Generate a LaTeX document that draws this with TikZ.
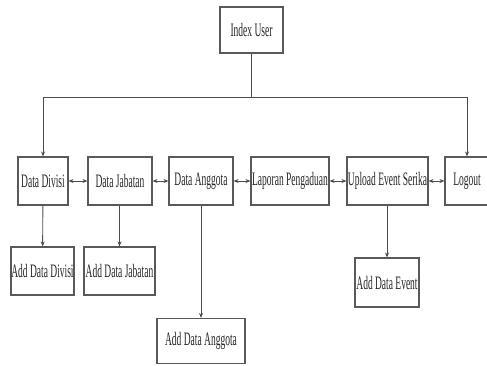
\documentclass[tikz,border=0pt]{standalone}
\usepackage{fontspec}
\setmainfont[FakeStretch=0.5]{Liberation Serif}
\usetikzlibrary{arrows.meta}
\begin{document}
\begin{tikzpicture}[x=1pt,y=-1pt,
  box/.style={draw=black!65,line width=1.1pt,fill=white,inner sep=0pt,text=black!85,
    font=\fontsize{19}{21}\selectfont},
  conn/.style={draw=black!70,line width=0.9pt},
  arr/.style={conn,-{Stealth[length=5pt,width=4pt]}},
  darr/.style={conn,{Stealth[length=5pt,width=4pt]}-{Stealth[length=5pt,width=4pt]}}]
\useasboundingbox (0,0) rectangle (487,365);
\node[box,minimum width=63pt,minimum height=46pt] (iu) at (251.5,30) {Index User};
\node[box,minimum width=50pt,minimum height=48pt] (dd) at (43,181) {Data Divisi};
\node[box,minimum width=64pt,minimum height=48pt] (dj) at (120,181) {Data Jabatan};
\node[box,minimum width=64pt,minimum height=48pt] (da) at (201,181) {Data Anggota};
\node[box,minimum width=78pt,minimum height=48pt] (lp) at (290,181) {Laporan Pengaduan};
\node[box,minimum width=81pt,minimum height=48pt] (ue) at (387.5,181) {Upload Event Serika};
\node[box,minimum width=44pt,minimum height=48pt] (lo) at (467,181) {Logout};
\node[box,minimum width=63pt,minimum height=48pt] (add) at (42.5,271) {Add Data Divisi};
\node[box,minimum width=71pt,minimum height=48pt] (adj) at (119.5,271) {Add Data Jabatan};
\node[box,minimum width=88pt,minimum height=45pt] (ada) at (201,341) {Add Data Anggota};
\node[box,minimum width=64pt,minimum height=49pt] (ade) at (387,282.5) {Add Data Event};
\coordinate (j) at (251.5,97);
\draw[conn] (iu) -- (j);
\draw[arr] (j) -| (dd);
\draw[arr] (j) -| (lo);
\draw[darr] (dd) -- (dj);
\draw[darr] (dj) -- (da);
\draw[darr] (da) -- (lp);
\draw[darr] (lp) -- (ue);
\draw[darr] (ue) -- (lo);
\draw[arr] (dd) -- (add);
\draw[arr] (dj.south -| adj) -- (adj);
\draw[arr] (da) -- (ada);
\draw[arr] (ue.south -| ade) -- (ade);
\end{tikzpicture}
\end{document}
